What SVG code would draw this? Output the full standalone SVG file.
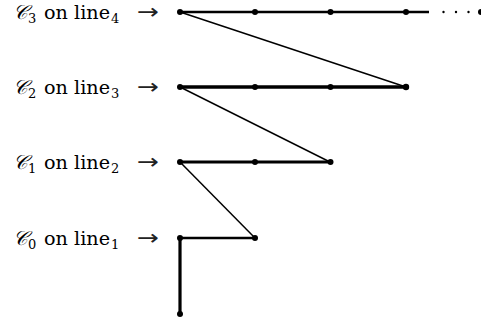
<svg xmlns="http://www.w3.org/2000/svg" width="481" height="324" viewBox="0 0 481 324">
<style>
text{font-family:"DejaVu Serif","Liberation Serif",serif;font-size:19px;fill:#000}
.cal{font-family:"DejaVu Serif","Noto Sans",serif;font-style:italic;font-size:20px}
.sub{font-size:13px}
.arr{fill:#222;font-family:"DejaVu Sans",sans-serif;font-size:21px}
.thick{stroke:#000;stroke-width:3;fill:none;stroke-linecap:butt}
.thin{stroke:#000;stroke-width:1.5;fill:none}
.dot{fill:#000}
</style>
<rect width="481" height="324" fill="#fff"/>
<g id="label-c3">
<text y="19"><tspan class="cal" x="13">𝒞</tspan><tspan class="sub" x="28" y="23">3</tspan><tspan x="44" y="19" textLength="66" lengthAdjust="spacingAndGlyphs">on line</tspan><tspan class="sub" x="111" y="23">4</tspan></text>
<text class="arr" x="137" y="19" textLength="22" lengthAdjust="spacingAndGlyphs">→</text>
</g>
<g id="label-c2">
<text y="94"><tspan class="cal" x="13">𝒞</tspan><tspan class="sub" x="28" y="98">2</tspan><tspan x="44" y="94" textLength="66" lengthAdjust="spacingAndGlyphs">on line</tspan><tspan class="sub" x="111" y="98">3</tspan></text>
<text class="arr" x="137" y="94" textLength="22" lengthAdjust="spacingAndGlyphs">→</text>
</g>
<g id="label-c1">
<text y="169"><tspan class="cal" x="13">𝒞</tspan><tspan class="sub" x="28" y="173">1</tspan><tspan x="44" y="169" textLength="66" lengthAdjust="spacingAndGlyphs">on line</tspan><tspan class="sub" x="111" y="173">2</tspan></text>
<text class="arr" x="137" y="169" textLength="22" lengthAdjust="spacingAndGlyphs">→</text>
</g>
<g id="label-c0">
<text y="245"><tspan class="cal" x="13">𝒞</tspan><tspan class="sub" x="28" y="249">0</tspan><tspan x="44" y="245" textLength="66" lengthAdjust="spacingAndGlyphs">on line</tspan><tspan class="sub" x="111" y="249">1</tspan></text>
<text class="arr" x="137" y="245" textLength="22" lengthAdjust="spacingAndGlyphs">→</text>
</g>
<g id="connectors">
<line class="thick" x1="180" y1="12" x2="429" y2="12" style="stroke-width:2.6"/>
<line class="thick" x1="180" y1="87" x2="406" y2="87" style="stroke-width:3.4"/>
<line class="thick" x1="180" y1="162" x2="330" y2="162"/>
<line class="thick" x1="180" y1="238" x2="255" y2="238" style="stroke-width:2.6"/>
<line class="thick" x1="180" y1="238" x2="180" y2="314" style="stroke-width:3.2"/>
<line class="thin" x1="180" y1="12" x2="406" y2="87"/>
<line class="thin" x1="180" y1="87" x2="330" y2="162"/>
<line class="thin" x1="180" y1="162" x2="255" y2="238"/>
</g>
<g id="row4-dots">
<circle class="dot" cx="180" cy="12" r="3"/>
<circle class="dot" cx="255" cy="12" r="3"/>
<circle class="dot" cx="330.5" cy="12" r="3"/>
<circle class="dot" cx="406" cy="12" r="3"/>
<circle class="dot" cx="443.5" cy="12" r="1.2"/>
<circle class="dot" cx="456" cy="12" r="1.2"/>
<circle class="dot" cx="468.5" cy="12" r="1.2"/>
<circle class="dot" cx="481" cy="12" r="3"/>
</g>
<g id="row3-dots">
<circle class="dot" cx="180" cy="87" r="3"/>
<circle class="dot" cx="255" cy="87" r="3"/>
<circle class="dot" cx="330.5" cy="87" r="3"/>
<circle class="dot" cx="406" cy="87" r="3.2"/>
</g>
<g id="row2-dots">
<circle class="dot" cx="180" cy="162" r="3"/>
<circle class="dot" cx="255" cy="162" r="3"/>
<circle class="dot" cx="330.5" cy="162" r="3"/>
</g>
<g id="row1-dots">
<circle class="dot" cx="180" cy="238" r="3"/>
<circle class="dot" cx="255" cy="238" r="3"/>
<circle class="dot" cx="180" cy="314" r="3"/>
</g>
</svg>
